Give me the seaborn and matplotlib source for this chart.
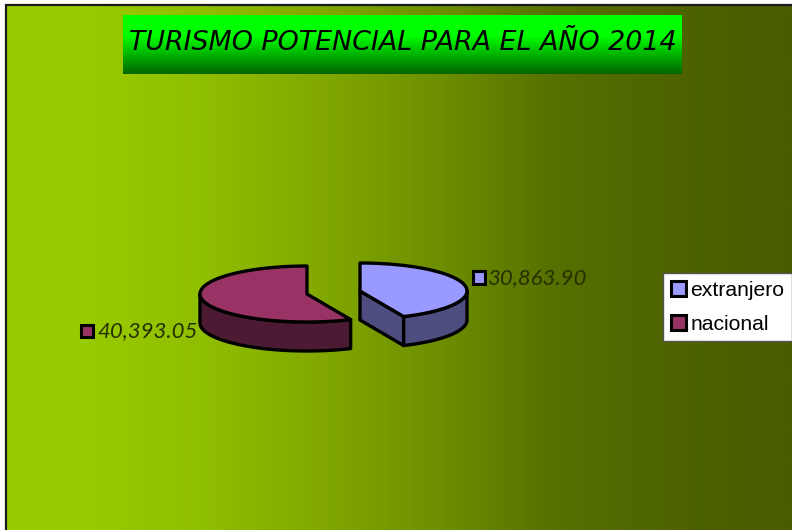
import numpy as np
import matplotlib
matplotlib.use("Agg")
import matplotlib.pyplot as plt
from matplotlib.colors import LinearSegmentedColormap
from matplotlib.patches import Polygon, Rectangle, Patch
import seaborn as sns

categories = ["extranjero", "nacional"]
values = [30863.90, 40393.05]
value_labels = ["30,863.90", "40,393.05"]
title_text = "TURISMO POTENCIAL PARA EL AÑO 2014"

top_colors = ["#9999FF", "#993366"]
side_colors = ["#4D4D80", "#4D1A33"]

sns.set_style("white")
W, H = 792, 530
fig = plt.figure(figsize=(W / 100, H / 100), dpi=100, facecolor="white")
ax = fig.add_axes([0, 0, 1, 1])
ax.set_xlim(0, W)
ax.set_ylim(H, 0)
ax.axis("off")

# background plate with horizontal gradient
bg = LinearSegmentedColormap.from_list("bg", [(0, "#99CC00"), (0.09, "#99CC00"), (0.25, "#90BE00"),
                                              (0.40, "#82A800"), (0.55, "#6E8F00"), (0.70, "#567000"),
                                              (0.85, "#4D6400"), (1, "#485C00")])
ax.imshow(np.linspace(0, 1, 512)[None, :], cmap=bg, extent=(6, W, H, 5), aspect="auto", zorder=0, interpolation="bilinear")
ax.plot([5.5, 5.5, W], [H, 4.5, 4.5], color="#1a1a1a", lw=1.6, zorder=1, solid_joinstyle="miter")
ax.set_xlim(0, W)
ax.set_ylim(H, 0)

# title box with vertical gradient
tg = LinearSegmentedColormap.from_list("tg", [(0, "#00FF00"), (0.35, "#00FF00"), (1, "#006600")])
ax.imshow(np.linspace(0, 1, 256)[:, None], cmap=tg, extent=(123, 682, 74, 15), aspect="auto", zorder=2, interpolation="bilinear")
ax.set_xlim(0, W)
ax.set_ylim(H, 0)
ax.text(402.5, 43, title_text, ha="center", va="center", fontsize=19.4, color="black",
        family="DejaVu Sans", style="oblique", zorder=3)

# 3D pie: angles come from the values
RX, RY, DEPTH = 107, 28, 29
centers = [(360, 291), (307, 294)]
total = sum(values)
start = 90.0
lw = 2.4


def rim(cx, cy, a0, a1, n=160):
    t = np.radians(np.linspace(a0, a1, n))
    return cx + RX * np.cos(t), cy - RY * np.sin(t)


for i, v in enumerate(values):
    a0 = start
    a1 = start - 360 * v / total
    start = a1
    cx, cy = centers[i]
    fa = np.linspace(a0, a1, 400)
    norm = np.mod(fa, 360)
    vis = fa[(norm >= 180) & (norm <= 360)]
    if i == 0:
        # cut face from centre to the tip, visible on the left side
        tx, ty = rim(cx, cy, a1, a1, 1)
        ax.add_patch(Polygon([(cx, cy), (tx[0], ty[0]), (tx[0], ty[0] + DEPTH), (cx, cy + DEPTH)],
                             fc=side_colors[i], ec="black", lw=lw, joinstyle="round", zorder=5))
        # right side rim: tip to 0 degrees
        vis = np.linspace(a1, 0, 80)
    x, y = rim(cx, cy, vis[0], vis[-1], len(vis))
    ax.add_patch(Polygon(np.r_[np.c_[x, y], np.c_[x[::-1], y[::-1] + DEPTH]],
                         fc=side_colors[i], ec="black", lw=lw, joinstyle="round", zorder=5))
    x, y = rim(cx, cy, a0, a1)
    ax.add_patch(Polygon(np.r_[[(cx, cy)], np.c_[x, y]], fc=top_colors[i], ec="black", lw=lw,
                         joinstyle="round", zorder=6))

# data labels with their keys
label_pos = [(488, 278), (97, 331)]
key_pos = [(472.5, 271), (80.5, 324.5)]
for i in range(2):
    ax.add_patch(Rectangle(key_pos[i], 12, 12.5, fc=top_colors[i], ec="black", lw=2.2, zorder=7))
    ax.text(*label_pos[i], value_labels[i], ha="left", va="center", fontsize=16, color="#263000",
            family="Lato", style="italic", zorder=7)

# legend
handles = [Patch(fc=top_colors[i], ec="black", lw=2.2, label=categories[i]) for i in range(2)]
leg = ax.legend(handles=handles, loc="upper left", bbox_to_anchor=(663, 273), bbox_transform=ax.transData,
                frameon=True, fancybox=False, framealpha=1, facecolor="white", edgecolor="#555555",
                prop={"family": "Liberation Sans", "size": 15.2}, handlelength=0.74, handleheight=0.74,
                handletextpad=0.2, labelspacing=0.72, borderpad=0.36, borderaxespad=0)
for t in leg.get_texts():
    t.set_color("black")
leg.get_frame().set_linewidth(1)
leg.set_zorder(8)

fig.savefig("out.png", dpi=100, facecolor="white")
